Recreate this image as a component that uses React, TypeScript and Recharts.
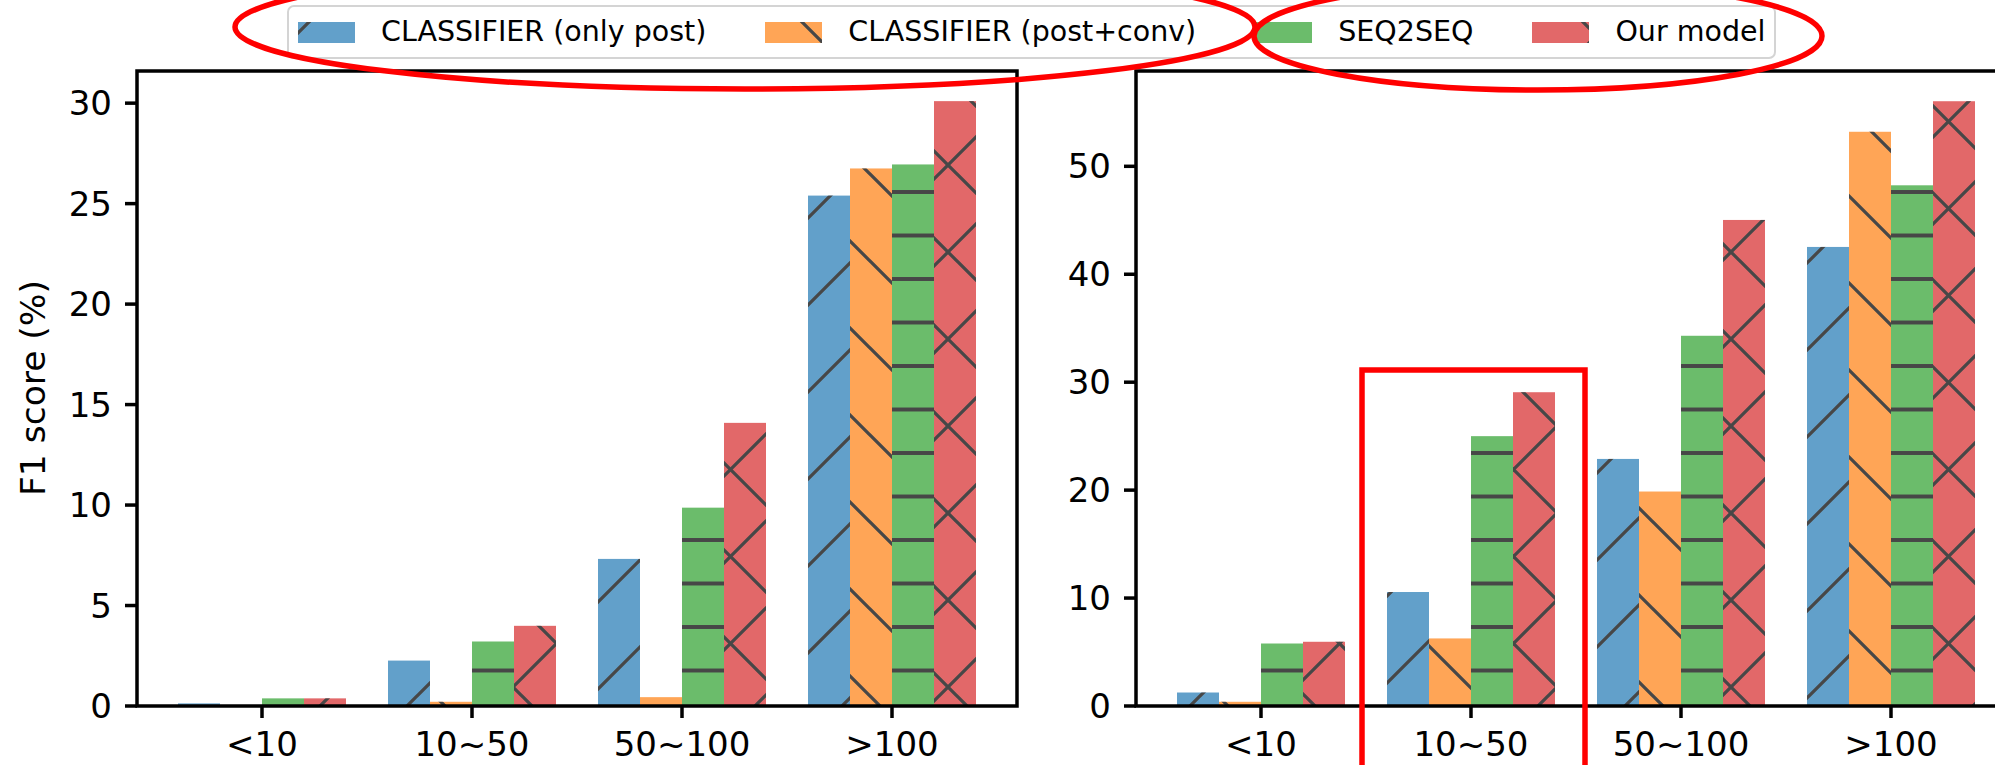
import React from 'react';
import { BarChart, Bar, XAxis, YAxis } from 'recharts';

const FONT = '"DejaVu Sans", sans-serif';

const categories = ['<10', '10~50', '50~100', '>100'];
const seriesKeys = ['onlyPost', 'postConv', 'seq2seq', 'ours'];
const seriesNames = ['CLASSIFIER (only post)', 'CLASSIFIER (post+conv)', 'SEQ2SEQ', 'Our model'];
const seriesColors = ['#62a0ca', '#ffa556', '#6bbc6b', '#e26869'];
const seriesHatches = ['/', '\\', '-', 'x'];

// left panel
const onlyPostLeft = [0.13, 2.26, 7.32, 25.4];
const postConvLeft = [0, 0.21, 0.44, 26.75];
const seq2seqLeft = [0.38, 3.21, 9.87, 26.95];
const oursLeft = [0.38, 3.99, 14.09, 30.1];
const leftTicks = [0, 5, 10, 15, 20, 25, 30];
const leftYMax = 31.6;

// right panel
const onlyPostRight = [1.25, 10.56, 22.89, 42.53];
const postConvRight = [0.39, 6.26, 19.87, 53.2];
const seq2seqRight = [5.79, 25.0, 34.3, 48.24];
const oursRight = [5.95, 29.07, 45.03, 56.03];
const rightTicks = [0, 10, 20, 30, 40, 50];
const rightYMax = 58.83;

const legendPatchLefts = [298, 767, 1260, 1536];

const toRows = (cols: number[][]) =>
  categories.map((category, i) => {
    const row: Record<string, string | number> = { category };
    seriesKeys.forEach((k, j) => {
      row[k] = cols[j][i];
    });
    return row;
  });

const leftRows = toRows([onlyPostLeft, postConvLeft, seq2seqLeft, oursLeft]);
const rightRows = toRows([onlyPostRight, postConvRight, seq2seqRight, oursRight]);

// hatch tiles, phased to the page so both panels line up like matplotlib's
const P = 87;
const PH = 43.5;
const HATCH = '#474747';
const HATCH_W = 3.3;
const mod = (a: number, m: number) => ((a % m) + m) % m;

function HatchDefs({ prefix, left, top = 0 }: { prefix: string; left: number; top?: number }) {
  const fwd = `M0,${P} L${P},0 M${-P / 4},${P / 4} L${P / 4},${-P / 4} M${(3 * P) / 4},${(5 * P) / 4} L${(5 * P) / 4},${(3 * P) / 4}`;
  const back = `M0,0 L${P},${P} M${-P / 4},${(3 * P) / 4} L${P / 4},${(5 * P) / 4} M${(3 * P) / 4},${-P / 4} L${(5 * P) / 4},${P / 4}`;
  return (
    <defs>
      <pattern id={`${prefix}-fwd`} patternUnits="userSpaceOnUse" x={mod(69 - left - top, P)} y={0} width={P} height={P}>
        <path d={fwd} stroke={HATCH} strokeWidth={HATCH_W} fill="none" />
      </pattern>
      <pattern id={`${prefix}-back`} patternUnits="userSpaceOnUse" x={mod(top - left, P)} y={0} width={P} height={P}>
        <path d={back} stroke={HATCH} strokeWidth={HATCH_W} fill="none" />
      </pattern>
      <pattern id={`${prefix}-h`} patternUnits="userSpaceOnUse" x={0} y={mod(18 - top - PH / 2, PH)} width={P} height={PH}>
        <path d={`M-1,${PH / 2} L${P + 1},${PH / 2}`} stroke={HATCH} strokeWidth={HATCH_W + 0.7} fill="none" />
      </pattern>
    </defs>
  );
}

const hatchIds = (prefix: string, hatch: string) => {
  if (hatch === '/') return [`${prefix}-fwd`];
  if (hatch === '\\') return [`${prefix}-back`];
  if (hatch === '-') return [`${prefix}-h`];
  return [`${prefix}-fwd`, `${prefix}-back`];
};

const hatchShape = (color: string, ids: string[]) => (props: any) => {
  const { x, y, width, height } = props;
  if (!(height > 0)) return <g />;
  return (
    <g>
      <rect x={x} y={y} width={width} height={height} fill={color} />
      {ids.map((id) => (
        <rect key={id} x={x} y={y} width={width} height={height} fill={`url(#${id})`} />
      ))}
    </g>
  );
};

const tickStyle = { fill: '#000', fontSize: 34, fontFamily: FONT };
const tickLineStyle = { stroke: '#000', strokeWidth: 3.5 };

function Panel({ rows, yMax, ticks, prefix, left }: { rows: any[]; yMax: number; ticks: number[]; prefix: string; left: number }) {
  return (
    <div style={{ position: 'absolute', left, top: 0 }}>
      <BarChart
        width={1030}
        height={765}
        data={rows}
        margin={{ top: 71, right: 13, bottom: 0, left: 0 }}
        barCategoryGap={21}
        barGap={0}
      >
        <HatchDefs prefix={prefix} left={left} />
        <XAxis
          dataKey="category"
          height={59}
          padding={{ left: 20, right: 20 }}
          axisLine={false}
          tickLine={tickLineStyle}
          tickSize={12}
          tickMargin={14}
          tick={tickStyle}
          interval={0}
        />
        <YAxis
          type="number"
          domain={[0, yMax]}
          ticks={ticks}
          allowDataOverflow
          width={137}
          axisLine={false}
          tickLine={tickLineStyle}
          tickSize={12}
          tickMargin={13}
          tick={tickStyle}
        />
        {seriesKeys.map((k, i) => (
          <Bar
            key={k}
            dataKey={k}
            name={seriesNames[i]}
            fill={seriesColors[i]}
            shape={hatchShape(seriesColors[i], hatchIds(prefix, seriesHatches[i]))}
            isAnimationActive={false}
          />
        ))}
      </BarChart>
    </div>
  );
}

function LegendBox() {
  return (
    <div
      style={{
        position: 'absolute',
        left: 287,
        top: 5,
        height: 54,
        boxSizing: 'border-box',
        border: '2.5px solid #d4d4d4',
        borderRadius: 7,
        background: '#fff',
        display: 'flex',
        alignItems: 'center',
        padding: '0 9px',
        fontFamily: FONT,
        fontSize: 28.5,
        color: '#000',
        whiteSpace: 'nowrap',
      }}
    >
      {seriesNames.map((name, i) => (
        <div key={name} style={{ display: 'flex', alignItems: 'center', marginRight: i < seriesNames.length - 1 ? 59 : 0 }}>
          <svg width={57} height={21} style={{ marginRight: 26, display: 'block' }}>
            <HatchDefs prefix={`lg${i}`} left={legendPatchLefts[i]} top={21} />
            <rect x={0} y={0} width={57} height={21} fill={seriesColors[i]} />
            {hatchIds(`lg${i}`, seriesHatches[i]).map((id) => (
              <rect key={id} x={0} y={0} width={57} height={21} fill={`url(#${id})`} />
            ))}
          </svg>
          <span style={{ lineHeight: 1 }}>{name}</span>
        </div>
      ))}
    </div>
  );
}

export default function App() {
  return (
    <div
      style={{
        position: 'absolute',
        left: 0,
        top: 0,
        width: 1995,
        height: 765,
        overflow: 'hidden',
        background: '#fff',
        fontFamily: FONT,
      }}
    >
      <Panel rows={leftRows} yMax={leftYMax} ticks={leftTicks} prefix="L" left={0} />
      <Panel rows={rightRows} yMax={rightYMax} ticks={rightTicks} prefix="R" left={999} />
      <LegendBox />
      <svg width={1995} height={765} style={{ position: 'absolute', left: 0, top: 0, pointerEvents: 'none' }}>
        {/* axes frames */}
        <rect x={137} y={71} width={880} height={635} fill="none" stroke="#000" strokeWidth={3.5} />
        <rect x={1136} y={71} width={880} height={635} fill="none" stroke="#000" strokeWidth={3.5} />
        <text
          x={33}
          y={388}
          transform="rotate(-90 33 388)"
          textAnchor="middle"
          dominantBaseline="central"
          fontSize={34.5}
          fontFamily={FONT}
          fill="#000"
        >
          F1 score (%)
        </text>
        {/* red highlights */}
        <ellipse cx={745} cy={27} rx={510} ry={62} fill="none" stroke="#ff0000" strokeWidth={5.5} />
        <ellipse cx={1538} cy={36} rx={284} ry={54} fill="none" stroke="#ff0000" strokeWidth={5.5} />
        <path d="M1362,800 L1362,370 L1585,370 L1585,800" fill="none" stroke="#ff0000" strokeWidth={5.5} />
      </svg>
    </div>
  );
}
